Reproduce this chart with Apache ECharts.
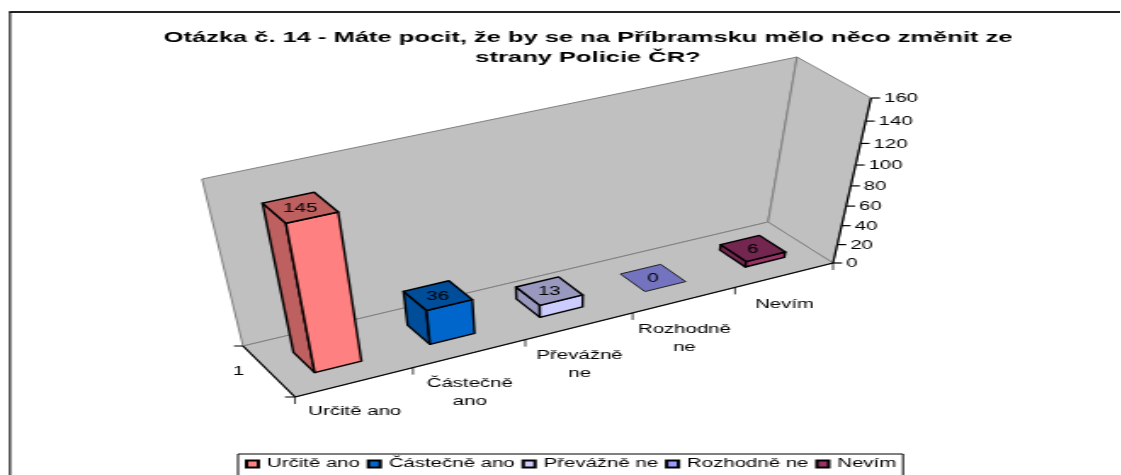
<!DOCTYPE html>
<html><head><meta charset="utf-8">
<style>html,body{margin:0;padding:0;background:#fff;overflow:hidden;width:1121px;height:475px}
#c{position:absolute;left:0;top:0;height:475px;transform-origin:0 0}</style>
<script src="https://cdn.jsdelivr.net/npm/echarts@6/dist/echarts.min.js"></script>
</head><body><div id="c"></div>
<script>
const titleText = 'Otázka č. 14 - Máte pocit, že by se na Příbramsku mělo něco změnit ze\nstrany Policie ČR?';
const categories = ['Určitě ano','Částečně ano','Převážně ne','Rozhodně ne','Nevím'];
const tickLabels = ['Určitě ano','Částečně\nano','Převážně\nne','Rozhodně\nne','Nevím'];
const values = [145,36,13,0,6];
const yTicks = [0,20,40,60,80,100,120,140,160];
const seriesName = '1';
const frontColors = ['#FF8080','#0066CC','#CCCCFF','#9999FF','#993366'];
const sideColors = ['#BF6060','#004D99','#9999BF','#7373BF','#732650'];

const S = 1.7;               // the reference is a horizontally stretched picture
const W = 1121 / S, H = 475;
const el = document.getElementById('c');
el.style.width = W + 'px';
el.style.transform = 'scaleX(' + S + ')';

function quad(p00,p10,p11,p01){
  const dx1=p10[0]-p11[0],dx2=p01[0]-p11[0],sx=p00[0]-p10[0]+p11[0]-p01[0];
  const dy1=p10[1]-p11[1],dy2=p01[1]-p11[1],sy=p00[1]-p10[1]+p11[1]-p01[1];
  const den=dx1*dy2-dx2*dy1;
  const g=(sx*dy2-dx2*sy)/den,h=(dx1*sy-sx*dy1)/den;
  return (u,d)=>{const w=1+g*u+h*d;return [
    (p00[0]+(p10[0]-p00[0]+g*p10[0])*u+(p01[0]-p00[0]+h*p01[0])*d)/w,
    (p00[1]+(p10[1]-p00[1]+g*p10[1])*u+(p01[1]-p00[1]+h*p01[1])*d)/w];};
}
const floorQ = quad([295,397],[833,263],[768,222],[243,346]);
const topQ = quad([260,230],[871,98],[797,57],[202,179]);
const R = 1.14;
function proj(u,d,v){
  const a=floorQ(u,d),b=topQ(u,d),t=v/(v+(1-v)*R);
  return [(a[0]+(b[0]-a[0])*t)/S, a[1]+(b[1]-a[1])*t];
}
const gridBox = {left:40,right:40,top:100,bottom:100};
function uv(params,api,cat,val){
  const p=api.coord([cat,val]),c=params.coordSys;
  return [(p[0]-c.x)/c.width,(c.y+c.height-p[1])/c.height];
}
const poly=(pts,fill,stroke,lw)=>({type:'polygon',shape:{points:pts},style:{fill:fill,stroke:stroke,lineWidth:lw,lineJoin:'round'}});
const line=(a,b,stroke,lw)=>({type:'line',shape:{x1:a[0],y1:a[1],x2:b[0],y2:b[1]},style:{stroke:stroke,lineWidth:lw}});
const txt=(p,t,size,align,vAlign)=>({type:'text',x:p[0],y:p[1],style:{text:t,fill:'#000',font:size+'px "Liberation Sans"',align:align||'center',verticalAlign:vAlign||'middle',lineHeight:18}});

function renderFrame(params,api){
  const W1='#808080',BK='#000';
  const ch=[
    poly([proj(0,1,0),proj(1,1,0),proj(1,1,1),proj(0,1,1)],'#C0C0C0',W1,1),
    poly([proj(1,1,0),proj(1,0,0),proj(1,0,1),proj(1,1,1)],'#C0C0C0',W1,1),
    poly([proj(0,0,0),proj(1,0,0),proj(1,1,0),proj(0,1,0)],'#C0C0C0',W1,1),
    line(proj(0,1,0),proj(0,0,0),BK,1.2),
    line(proj(0,0,0),proj(1,0,0),BK,1.2),
    line(proj(1,0,0),proj(1,0,1),BK,1.2)
  ];
  const n=categories.length;
  for(let i=0;i<=n;i++){
    const a=proj(i/n,0,0);
    ch.push(line(a,[a[0],a[1]+7],BK,1/S*1.3));
  }
  categories.forEach((c,i)=>{
    const a=proj((i+.5)/n,0,0);
    ch.push(txt([a[0],a[1]+21],tickLabels[i],12,'center','top'));
  });
  yTicks.forEach(t=>{
    const q=uv(params,api,0,t),a=proj(1,0,q[1]);
    ch.push(line(a,[a[0]+9/S,a[1]],BK,1.2));
    ch.push(txt([a[0]+13/S,a[1]+1],String(t),12,'left'));
  });
  const b0=proj(0,1,0),f0=proj(0,0,0),sm=proj(0,.5,0);
  ch.push(line(b0,[b0[0]-9/S,b0[1]],BK,1));
  ch.push(line(f0,[f0[0]-10/S,f0[1]],BK,1));
  ch.push(txt([sm[0]-30/S,sm[1]+1],seriesName,12));
  return {type:'group',children:ch};
}
function renderBar(idx){
  return function(params,api){
    const cat=api.value(0),val=api.value(1);
    const n=categories.length;
    const c=uv(params,api,cat,0),tp=uv(params,api,cat,val);
    const bw=.40/n,u0=c[0]-bw/2,u1=c[0]+bw/2,d0=.3,d1=.7,v=tp[1];
    const A=proj(u0,d0,0),B=proj(u1,d0,0),C=proj(u0,d0,v),D=proj(u1,d0,v);
    const E=proj(u0,d1,0),G=proj(u0,d1,v),K=proj(u1,d1,v);
    const lw=val===0?1:1.4, st=val===0?'#222':'#000';
    const ch=[];
    if(val>0){
      ch.push(poly([E,A,C,G],sideColors[idx],st,lw));
      ch.push(poly([A,B,D,C],frontColors[idx],st,lw));
    }
    ch.push(poly([C,D,K,G],sideColors[idx],st,lw));
    const m=proj(c[0],.5,v);
    ch.push(txt([m[0],m[1]+1],String(val),12));
    return {type:'group',children:ch};
  };
}
const series=[{type:'custom',name:'frame',silent:true,renderItem:renderFrame,data:[[0,0]],z:1,legendHoverLink:false}];
categories.forEach((c,i)=>series.push({
  type:'custom',name:c,renderItem:renderBar(i),z:2,
  itemStyle:{color:frontColors[i],borderColor:'#000',borderWidth:1},
  data:[[i,values[i]]],encode:{x:0,y:1}
}));
const chart=echarts.init(el,null,{renderer:'canvas'});
chart.setOption({
  animation:false,
  backgroundColor:'#fff',
  title:{text:titleText,textAlign:'center',top:23,
    left:(163+1014-18)/2/S,
    textStyle:{fontFamily:'Liberation Sans',fontSize:15,fontWeight:'bold',color:'#000',lineHeight:20,align:'center'}},
  legend:{data:categories,left:238/S,top:454,orient:'horizontal',itemWidth:7,itemHeight:7,itemGap:4,
    icon:'rect',padding:[4,4,12,4],borderColor:'#000',borderWidth:1,backgroundColor:'#fff',
    textStyle:{fontFamily:'Liberation Sans',fontSize:12,color:'#000'}},
  grid:gridBox,
  xAxis:{type:'category',data:categories,show:false},
  yAxis:{type:'value',min:0,max:160,interval:20,show:false},
  graphic:[
    {type:'line',shape:{x1:9/S,y1:12,x2:1121/S,y2:12},style:{stroke:'#222',lineWidth:2}},
    {type:'line',shape:{x1:10/S,y1:12,x2:10/S,y2:475},style:{stroke:'#111',lineWidth:2/S}}
  ],
  series:series
});
</script></body></html>
